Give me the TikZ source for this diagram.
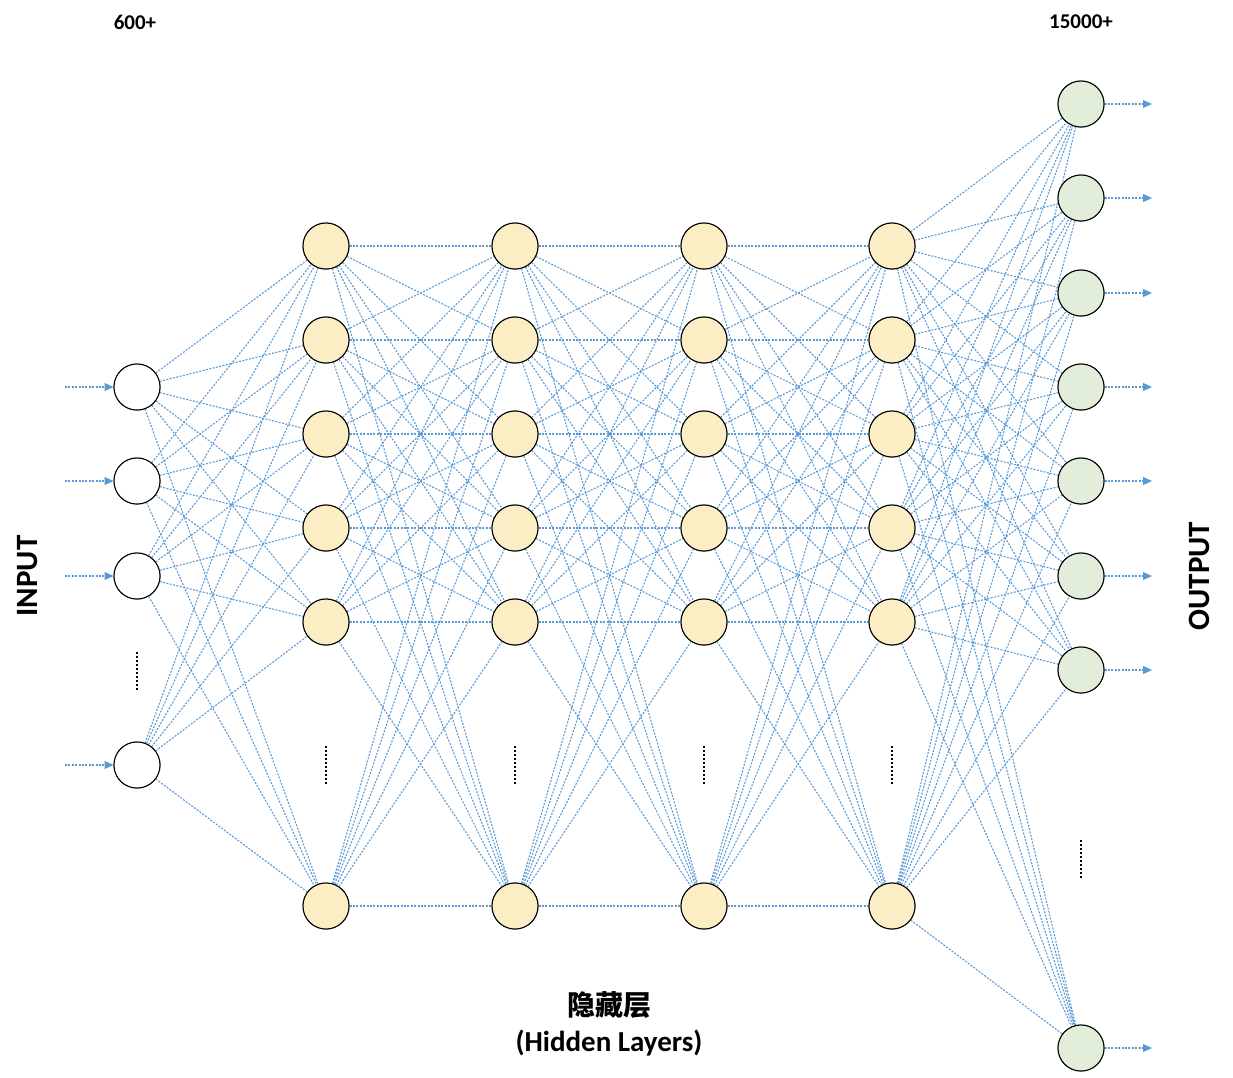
\documentclass[tikz,border=0pt]{standalone}
\usepackage{fontspec}
\setmainfont{Carlito}
\newfontfamily\cjk{Noto Sans CJK SC}
\usetikzlibrary{arrows.meta}
\definecolor{lnk}{HTML}{5B9BD5}
\definecolor{hid}{HTML}{FBEDC4}
\definecolor{outc}{HTML}{E3EEDA}
\tikzset{
  neuron/.style={circle,draw=black,line width=1pt,minimum size=46pt,inner sep=0pt},
  inn/.style={neuron,fill=white},
  hidn/.style={neuron,fill=hid},
  outn/.style={neuron,fill=outc},
  link/.style={draw=lnk,line width=1.1pt,dash pattern=on 2pt off 1.4pt},
  arr/.style={link,-{Triangle[length=9pt,width=8pt]}},
  vdots/.style={draw=black,line width=2.2pt,dash pattern=on 1.8pt off 2.2pt},
  lbl/.style={font=\bfseries\fontsize{21}{23}\selectfont}
}
\begin{document}
\begin{tikzpicture}[x=1pt,y=-1pt]
\useasboundingbox (0,0) rectangle (1233,1077);
\foreach \i/\y in {1/387,2/481,3/576,4/765} \node[inn] (i\i) at (137,\y) {};
\foreach \l/\x in {1/326,2/515,3/704,4/892}
  \foreach \i/\y in {1/246,2/340,3/434,4/528,5/622,6/906}
    \node[hidn] (h\l\i) at (\x,\y) {};
\foreach \i/\y in {1/104,2/198,3/293,4/387,5/481,6/576,7/670,8/1048}
  \node[outn] (o\i) at (1081,\y) {};
\foreach \a in {1,...,4} \foreach \b in {1,...,6} \draw[link] (i\a) -- (h1\b);
\foreach \l/\m in {1/2,2/3,3/4}
  \foreach \a in {1,...,6} \foreach \b in {1,...,6} \draw[link] (h\l\a) -- (h\m\b);
\foreach \a in {1,...,6} \foreach \b in {1,...,8} \draw[link] (h4\a) -- (o\b);
\foreach \i/\y in {1/387,2/481,3/576,4/765} \node[inn] at (137,\y) {};
\foreach \l/\x in {1/326,2/515,3/704,4/892}
  \foreach \i/\y in {1/246,2/340,3/434,4/528,5/622,6/906}
    \node[hidn] at (\x,\y) {};
\foreach \i/\y in {1/104,2/198,3/293,4/387,5/481,6/576,7/670,8/1048}
  \node[outn] at (1081,\y) {};
\foreach \i/\y in {1/387,2/481,3/576,4/765} {
  \coordinate (ia\i) at (65,\y);
  \draw[arr] (ia\i) -- (i\i);}
\foreach \i/\y in {1/104,2/198,3/293,4/387,5/481,6/576,7/670,8/1048} {
  \coordinate (oa\i) at (1152,\y);
  \draw[arr] (o\i) -- (oa\i);}
\coordinate (d0a) at (137,652); \coordinate (d0b) at (137,690);
\draw[vdots] (d0a) -- (d0b);
\foreach \x [count=\k] in {326,515,704,892} {
  \coordinate (d\k a) at (\x,746); \coordinate (d\k b) at (\x,784);
  \draw[vdots] (d\k a) -- (d\k b);}
\coordinate (d5a) at (1081,840); \coordinate (d5b) at (1081,878);
\draw[vdots] (d5a) -- (d5b);
\node[lbl] (t1) at (135,22) {600+};
\node[lbl] (t2) at (1081,22) {15000+};
\node[font=\bfseries\fontsize{31}{32}\selectfont,rotate=90] (tin) at (28,576) {INPUT};
\node[font=\bfseries\fontsize{31}{32}\selectfont,rotate=90] (tout) at (1199,576) {OUTPUT};
\node[font=\cjk\bfseries\fontsize{28}{30}\selectfont] (tz) at (609,1005) {隐藏层};
\node[font=\bfseries\fontsize{29}{30}\selectfont] (th) at (609,1043) {(Hidden Layers)};
\end{tikzpicture}
\end{document}
